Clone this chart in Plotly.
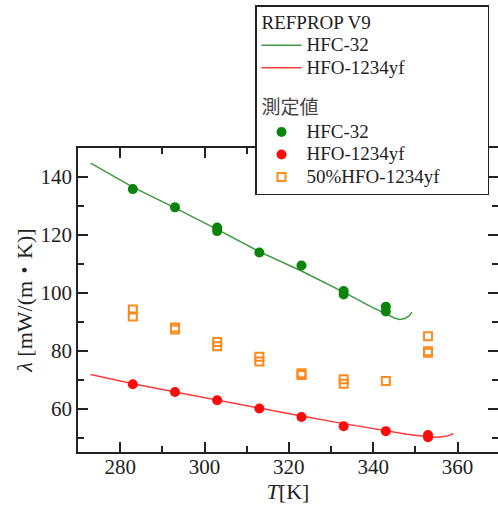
import plotly.graph_objects as go

# REFPROP V9 curves
T_ref32 = [273, 283, 293, 303, 313, 323, 333, 340, 343, 345, 346.3, 347.5, 348.5, 349.2]
L_ref32 = [144.8, 136.5, 129.3, 121.9, 114.2, 107.5, 100.2, 94.8, 92.8, 91.3, 90.8, 91.1, 92.0, 93.3]
T_ref1234 = [273, 283, 293, 303, 313, 323, 333, 343, 348, 353, 355.5, 357.5, 359]
L_ref1234 = [71.8, 68.6, 65.7, 62.9, 60.1, 57.4, 54.8, 52.4, 51.1, 50.3, 50.1, 50.5, 51.3]

# measured values
T_m32 = [283, 293, 303, 303, 313, 323, 333, 333, 343, 343]
L_m32 = [135.8, 129.5, 122.5, 121.3, 113.9, 109.4, 100.6, 99.4, 95.2, 93.5]
T_m1234 = [283, 293, 303, 313, 323, 333, 343, 353, 353]
L_m1234 = [68.4, 65.7, 62.9, 60.0, 57.1, 53.9, 52.2, 50.9, 50.1]
T_mix = [283, 283, 293, 293, 303, 303, 313, 313, 323, 323, 333, 333, 343, 353, 353, 353]
L_mix = [94.2, 91.8, 88.0, 87.3, 83.0, 81.5, 77.9, 76.3, 72.2, 71.6, 70.1, 68.6, 69.5, 85.0, 79.8, 79.3]

FONT = "Liberation Serif, Noto Sans CJK JP, serif"
TXT = "#222222"
FS = 21
LFS = 19


def big(s, pad=0):
    return '<span style="font-size:%dpx">%s%s</span>' % (LFS, s, "&nbsp;" * pad)


fig = go.Figure()
fig.add_trace(go.Scatter(x=T_ref32, y=L_ref32, mode="lines", line=dict(color="#3f9a3f", width=1.5),
                         name=big("HFC-32"), legendgroup="ref",
                         legendgrouptitle=dict(text=big("REFPROP V9"),
                                               font=dict(family=FONT, size=15, color=TXT))))
fig.add_trace(go.Scatter(x=T_ref1234, y=L_ref1234, mode="lines", line=dict(color="#ff3b3b", width=1.5),
                         name=big("HFO-1234yf"), legendgroup="ref"))
fig.add_trace(go.Scatter(x=T_m32, y=L_m32, mode="markers",
                         marker=dict(symbol="circle", size=10, color="#0a840a"),
                         name=big("HFC-32"), legendgroup="meas",
                         legendgrouptitle=dict(text="測定値",
                                               font=dict(family=FONT, size=19, color="#444444"))))
fig.add_trace(go.Scatter(x=T_m1234, y=L_m1234, mode="markers",
                         marker=dict(symbol="circle", size=10, color="#ff0a0a"),
                         name=big("HFO-1234yf"), legendgroup="meas"))
fig.add_trace(go.Scatter(x=T_mix, y=L_mix, mode="markers",
                         marker=dict(symbol="square-open", size=8, color="#ff8a1c", line=dict(width=2)),
                         name=big("50%HFO-1234yf", pad=9), legendgroup="meas"))

W, H = 498, 513
ml, mr, mt, mb = 78, 0, 148, 61
pw, ph = W - ml - mr, H - mt - mb


def px2paper(x, y):
    return (x - ml) / pw, (H - mb - y) / ph


# legend shadow
sx0, sy0 = px2paper(259, 9)
sx1, sy1 = px2paper(489, 194)
fig.add_shape(type="rect", xref="paper", yref="paper", x0=sx0, y0=sy1, x1=sx1, y1=sy0,
              fillcolor="#111111", line=dict(width=0), layer="above")

lx, ly = px2paper(255, 5)

axis_common = dict(showline=True, linecolor="#222222", linewidth=1.5, mirror="ticks",
                   ticks="inside", ticklen=10, tickwidth=1.5, tickcolor="#222222",
                   showgrid=False, zeroline=False,
                   tickfont=dict(family=FONT, size=FS, color=TXT))

fig.update_xaxes(range=[270, 369.6], dtick=20, tick0=280, ticklabelstandoff=-5,
                 minor=dict(ticks="inside", ticklen=6, dtick=10, tick0=270, tickwidth=1.5, tickcolor="#222222"),
                 title=dict(text="<i>T</i>[K]", font=dict(family=FONT, size=FS + 1, color=TXT), standoff=2),
                 **axis_common)
fig.update_yaxes(range=[45, 150], dtick=20, tick0=60,
                 minor=dict(ticks="inside", ticklen=6, dtick=10, tick0=50, tickwidth=1.5, tickcolor="#222222"),
                 title=dict(text="<i>λ</i> [mW/(m・K)]", font=dict(family=FONT, size=FS + 1, color=TXT), standoff=2),
                 **axis_common)

fig.update_layout(
    width=W, height=H,
    margin=dict(l=ml, r=mr, t=mt, b=mb, autoexpand=False),
    plot_bgcolor="white", paper_bgcolor="white",
    font=dict(family=FONT, color=TXT),
    legend=dict(xref="paper", yref="paper", x=lx, y=ly,
                xanchor="left", yanchor="top",
                bgcolor="white", bordercolor="#222222", borderwidth=1.5,
                font=dict(family=FONT, size=15, color=TXT),
                tracegroupgap=14, itemwidth=40),
)

fig.write_html("out.html", config={"displayModeBar": False},
               post_script="document.body.style.margin='0';document.body.style.padding='0';")
